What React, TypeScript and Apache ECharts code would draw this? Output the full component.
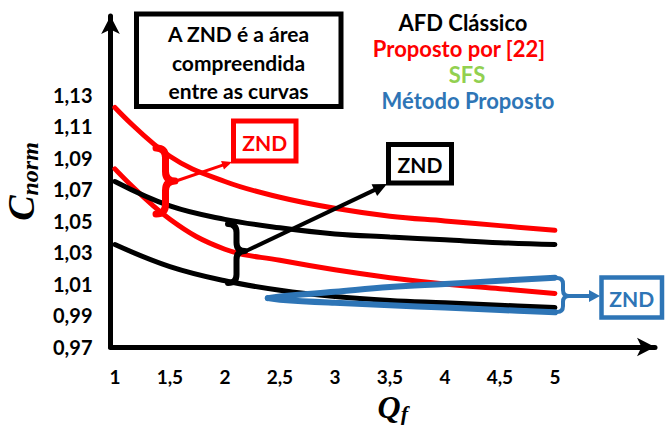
import React, { useEffect, useRef } from "react";
import * as echarts from "echarts";

// ---- data ----
const qf = [1, 1.5, 2, 2.5, 3, 3.5, 4, 4.5, 5];
const proposto22Upper = [1.122, 1.091, 1.075, 1.065, 1.058, 1.053, 1.05, 1.047, 1.044];
const proposto22Lower = [1.083, 1.051, 1.032, 1.025, 1.019, 1.014, 1.01, 1.007, 1.004];
const afdUpper = [1.075, 1.0595, 1.051, 1.0456, 1.0417, 1.0398, 1.038, 1.0362, 1.035];
const afdLower = [1.035, 1.021, 1.012, 1.006, 1.002, 0.9995, 0.998, 0.9965, 0.995];
const qfMetodo = [2.39, 2.5, 3, 3.5, 4, 4.5, 5];
const metodoUpper = [1.001, 1.002, 1.005, 1.008, 1.01, 1.012, 1.014];
const metodoLower = [1.001, 1.0, 0.998, 0.9965, 0.995, 0.9935, 0.992];

const yTicks = [0.97, 0.99, 1.01, 1.03, 1.05, 1.07, 1.09, 1.11, 1.13];
const xTicks = [1, 1.5, 2, 2.5, 3, 3.5, 4, 4.5, 5];

const legendLabels = ["AFD Clássico", "Proposto por [22]", "SFS", "Método Proposto"];
const legendColors = ["#000000", "#FF0000", "#92D050", "#2E75B6"];
const noteLines = ["A ZND é a área", "compreendida", "entre as curvas"];
const zndLabel = "ZND";

const RED = "#FF0000";
const BLACK = "#000000";
const BLUE = "#2E75B6";
const FONT = "Lato";

const pairs = (xs: number[], ys: number[]) => xs.map((x, i) => [x, ys[i]]);

function bracePath(x: number, y1: number, y2: number, w: number, ym: number) {
  const xm = x + w / 2;
  const r = w / 2;
  return [
    `M ${x} ${y1}`,
    `Q ${xm} ${y1} ${xm} ${y1 + r}`,
    `L ${xm} ${ym - r}`,
    `Q ${xm} ${ym} ${x + w} ${ym}`,
    `Q ${xm} ${ym} ${xm} ${ym + r}`,
    `L ${xm} ${y2 - r}`,
    `Q ${xm} ${y2} ${x} ${y2}`,
  ].join(" ");
}

function arrow(x1: number, y1: number, x2: number, y2: number, color: string, lw: number, hl: number, hw: number) {
  const dx = x2 - x1;
  const dy = y2 - y1;
  const len = Math.sqrt(dx * dx + dy * dy);
  const ux = dx / len;
  const uy = dy / len;
  const bx = x2 - ux * hl;
  const by = y2 - uy * hl;
  const px = -uy;
  const py = ux;
  return [
    {
      type: "line",
      shape: { x1, y1, x2: bx + ux * 1, y2: by + uy * 1 },
      style: { stroke: color, lineWidth: lw },
      z: 20,
    },
    {
      type: "polygon",
      shape: {
        points: [
          [x2, y2],
          [bx + (px * hw) / 2, by + (py * hw) / 2],
          [bx - (px * hw) / 2, by - (py * hw) / 2],
        ],
      },
      style: { fill: color },
      z: 20,
    },
  ];
}

function zndBox(x: number, y: number, w: number, h: number, color: string, lw: number) {
  return [
    {
      type: "rect",
      shape: { x, y, width: w, height: h },
      style: { fill: "#fff", stroke: color, lineWidth: lw },
      z: 20,
    },
    {
      type: "text",
      x: x + w / 2,
      y: y + h / 2 + 1,
      style: {
        text: zndLabel,
        fill: color,
        font: `bold 21px ${FONT}`,
        align: "center",
        verticalAlign: "middle",
      },
      z: 21,
    },
  ];
}

export default function App() {
  const ref = useRef<HTMLDivElement>(null);

  useEffect(() => {
    if (!ref.current) return;
    echarts.graphic.registerShape("braceRed", echarts.graphic.extendPath(bracePath(156, 148, 214, 19, 181), {}));
    echarts.graphic.registerShape("braceBlack", echarts.graphic.extendPath(bracePath(228, 224, 283, 17, 251), {}));
    echarts.graphic.registerShape("braceBlue", echarts.graphic.extendPath(bracePath(557, 278, 312, 12, 296), {}));

    const chart = echarts.init(ref.current, null, { renderer: "svg" });

    const lineSeries = (name: string, data: number[][], color: string, width: number) => ({
      name,
      type: "line",
      data,
      smooth: 0.4,
      showSymbol: false,
      symbol: "none",
      lineStyle: { color, width, cap: "round" },
      z: 5,
    });

    const serif = { fontFamily: "Liberation Serif", fontStyle: "italic", fontWeight: "bold", color: "#000" };
    const yTitleRich = {
      c: { ...serif, fontSize: 38, lineHeight: 42 },
      s: { ...serif, fontSize: 24, lineHeight: 18, verticalAlign: "bottom" },
    };
    const xTitleRich = {
      c: { ...serif, fontSize: 32, lineHeight: 36 },
      s: { ...serif, fontSize: 22, lineHeight: 22, verticalAlign: "bottom" },
    };

    const graphic: any[] = [];
    // note box
    graphic.push({
      type: "rect",
      shape: { x: 136.5, y: 14, width: 204.5, height: 92.5 },
      style: { fill: "#fff", stroke: BLACK, lineWidth: 5 },
      z: 20,
    });
    const noteY = [33, 62, 90];
    noteLines.forEach((t, i) =>
      graphic.push({
        type: "text",
        x: 238.5,
        y: noteY[i],
        style: { text: t, fill: "#000", font: `bold 21px ${FONT}`, align: "center", verticalAlign: "middle" },
        z: 21,
      })
    );
    // legend-like labels
    const legX = [463, 459, 467, 468];
    const legY = [22, 48, 74, 100];
    legendLabels.forEach((t, i) =>
      graphic.push({
        type: "text",
        x: legX[i],
        y: legY[i],
        style: { text: t, fill: legendColors[i], font: `bold 22px ${FONT}`, align: "center", verticalAlign: "middle" },
        z: 21,
      })
    );
    // braces
    graphic.push({ type: "braceRed", x: 0, y: 0, style: { fill: "none", stroke: RED, lineWidth: 7, lineCap: "round", lineJoin: "round" }, z: 19 });
    graphic.push({ type: "braceBlack", x: 0, y: 0, style: { fill: "none", stroke: BLACK, lineWidth: 6, lineCap: "round", lineJoin: "round" }, z: 19 });
    graphic.push({ type: "braceBlue", x: 0, y: 0, style: { fill: "none", stroke: BLUE, lineWidth: 4, lineCap: "round", lineJoin: "round" }, z: 19 });
    // arrows
    graphic.push(...arrow(176, 181, 232, 162, RED, 3, 10, 9));
    graphic.push(...arrow(246, 251, 387, 184, BLACK, 4, 14, 13));
    graphic.push(...arrow(569, 296, 600, 296, BLUE, 4, 11, 12));
    // ZND boxes
    graphic.push(...zndBox(233.5, 121, 62.5, 40, RED, 5));
    graphic.push(...zndBox(388.5, 144.5, 63, 38.5, BLACK, 5));
    graphic.push(...zndBox(601.5, 277.5, 60.5, 40, BLUE, 4.5));

    chart.setOption({
      animation: false,
      backgroundColor: "#fff",
      grid: { left: 110.5, right: 10, top: 16, bottom: 78, containLabel: false, outerBoundsMode: "none" },
      xAxis: {
        type: "value",
        min: 0.96,
        max: 5.91,
        name: "{c|Q}{s|f}",
        nameLocation: "middle",
        nameGap: 35,
        nameTextStyle: { rich: xTitleRich, padding: [0, 0, 0, 20] },
        axisLine: {
          show: true,
          onZero: false,
          symbol: ["none", "arrow"],
          symbolSize: [14, 18],
          lineStyle: { color: "#000", width: 5 },
        },
        axisTick: { show: false },
        splitLine: { show: false },
        axisLabel: {
          customValues: xTicks,
          formatter: (v: number) => String(v).replace(".", ","),
          margin: 20,
          color: "#000",
          fontFamily: FONT,
          fontWeight: "bold",
          fontSize: 19,
        },
      },
      yAxis: {
        type: "value",
        min: 0.97,
        max: 1.18,
        name: "{c|C}{s|norm}",
        nameLocation: "middle",
        nameGap: 67,
        nameRotate: 90,
        nameTextStyle: { rich: yTitleRich },
        axisLine: {
          show: true,
          onZero: false,
          symbol: ["none", "arrow"],
          symbolSize: [14, 18],
          lineStyle: { color: "#000", width: 5 },
        },
        axisTick: { show: false },
        splitLine: { show: false },
        axisLabel: {
          customValues: yTicks,
          formatter: (v: number) => v.toFixed(2).replace(".", ","),
          margin: 18,
          color: "#000",
          fontFamily: FONT,
          fontWeight: "bold",
          fontSize: 20,
        },
      },
      series: [
        lineSeries("Proposto por [22] sup", pairs(qf, proposto22Upper), RED, 5),
        lineSeries("Proposto por [22] inf", pairs(qf, proposto22Lower), RED, 5),
        lineSeries("AFD Clássico sup", pairs(qf, afdUpper), BLACK, 5),
        lineSeries("AFD Clássico inf", pairs(qf, afdLower), BLACK, 5),
        lineSeries("Método Proposto sup", pairs(qfMetodo, metodoUpper), BLUE, 6),
        lineSeries("Método Proposto inf", pairs(qfMetodo, metodoLower), BLUE, 6),
      ],
      graphic,
    });

    return () => chart.dispose();
  }, []);

  return <div ref={ref} style={{ width: 665, height: 425, position: "absolute", left: 0, top: 0 }} />;
}
